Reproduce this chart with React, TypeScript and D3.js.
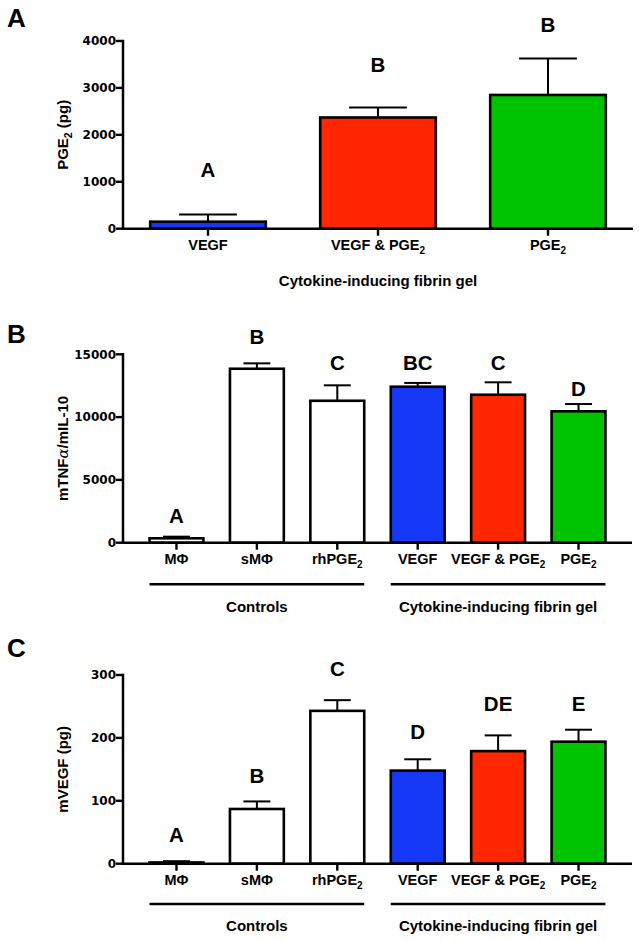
import React from "react";
import * as d3 from "d3";

// ---------- Data ----------
const panelACategories = ["VEGF", "VEGF & PGE_2", "PGE_2"];
const panelAMeans = [150, 2370, 2850];
const panelAErrors = [150, 215, 775];
const panelALetters = ["A", "B", "B"];
const panelALetterY = [1100, 3350, 4200];
const panelATicks = [0, 1000, 2000, 3000, 4000];

const panelBCCategories = ["MΦ", "sMΦ", "rhPGE_2", "VEGF", "VEGF & PGE_2", "PGE_2"];

const panelBMeans = [350, 13850, 11300, 12420, 11780, 10460];
const panelBErrors = [130, 430, 1230, 300, 990, 580];
const panelBLetters = ["A", "B", "C", "BC", "C", "D"];
const panelBLetterY = [1570, 15820, 13750, 13750, 13750, 11680];
const panelBTicks = [0, 5000, 10000, 15000];

const panelCMeans = [2, 87, 243, 148, 179, 194];
const panelCErrors = [2, 12, 17, 18, 25, 19];
const panelCLetters = ["A", "B", "C", "D", "DE", "E"];
const panelCLetterY = [35, 129, 299, 198, 242, 242];
const panelCTicks = [0, 100, 200, 300];

const groupNames = ["Controls", "Cytokine-inducing fibrin gel"];
const groupRanges = [
  [0, 2],
  [3, 5],
];

const BLUE = "#1438f5";
const RED = "#ff2600";
const GREEN = "#00c300";
const WHITE = "#ffffff";
const panelAColors = [BLUE, RED, GREEN];
const panelBCColors = [WHITE, WHITE, WHITE, BLUE, RED, GREEN];

const SANS = "'Liberation Sans', Arial, Helvetica, sans-serif";
const TICKFONT = "'DejaVu Sans', sans-serif";

function SubLabel({ text, subSize }: { text: string; subSize: number }) {
  const parts = text.split("_");
  if (parts.length === 1) return <>{text}</>;
  return (
    <>
      <tspan>{parts[0]}</tspan>
      <tspan fontSize={subSize} dy={4}>
        {parts[1]}
      </tspan>
    </>
  );
}

type PanelProps = {
  categories: string[];
  means: number[];
  errors: number[];
  letters: string[];
  letterY: number[];
  ticks: number[];
  colors: string[];
  y0: number;
  yTop: number;
  xRange: [number, number];
  padInner: number;
  padOuter: number;
  labelBaseline: number;
  panelLetter: string;
  panelLetterBaseline: number;
  yTitle: React.ReactNode;
  groups?: boolean;
  groupLineY?: number;
  groupLabelBaseline?: number;
  singleTitle?: string;
  singleTitleBaseline?: number;
};

function Panel(p: PanelProps) {
  const x = d3
    .scaleBand<string>()
    .domain(p.categories)
    .range(p.xRange)
    .paddingInner(p.padInner)
    .paddingOuter(p.padOuter);
  const y = d3
    .scaleLinear()
    .domain([0, p.ticks[p.ticks.length - 1]])
    .range([p.y0, p.yTop]);
  const bw = x.bandwidth();
  const axisX = p.xRange[0];
  return (
    <g>
      <text
        x={7}
        y={p.panelLetterBaseline}
        fontFamily={SANS}
        fontWeight="bold"
        fontSize={26}
      >
        {p.panelLetter}
      </text>
      {/* bars */}
      {p.categories.map((c, i) => {
        const cx = (x(c) as number) + bw / 2;
        const top = y(p.means[i]);
        const etop = y(p.means[i] + p.errors[i]);
        return (
          <g key={c}>
            <line x1={cx} x2={cx} y1={top} y2={etop} stroke="#000" strokeWidth={2} />
            <line
              x1={cx - bw / 4}
              x2={cx + bw / 4}
              y1={etop}
              y2={etop}
              stroke="#000"
              strokeWidth={2}
            />
            <rect
              x={x(c)}
              y={top}
              width={bw}
              height={p.y0 - top}
              fill={p.colors[i]}
              stroke="#000"
              strokeWidth={2.6}
            />
            <text
              x={cx}
              y={y(p.letterY[i])}
              textAnchor="middle"
              fontFamily={SANS}
              fontWeight="bold"
              fontSize={20.5}
            >
              {p.letters[i]}
            </text>
            <line x1={cx} x2={cx} y1={p.y0} y2={p.y0 + 7} stroke="#000" strokeWidth={2.4} />
            <text
              x={cx}
              y={p.labelBaseline}
              textAnchor="middle"
              fontFamily={SANS}
              fontWeight="bold"
              fontSize={14.5}
            >
              <SubLabel text={c} subSize={10} />
            </text>
          </g>
        );
      })}
      {/* y axis */}
      <line x1={axisX} x2={axisX} y1={y(p.ticks[p.ticks.length - 1]) - 1.2} y2={p.y0 + 1.2} stroke="#000" strokeWidth={2.5} />
      {p.ticks.map((t) => (
        <g key={t}>
          <line x1={axisX - 7} x2={axisX} y1={y(t)} y2={y(t)} stroke="#000" strokeWidth={2.4} />
          <text
            x={axisX - 7}
            y={y(t)}
            dy="0.36em"
            textAnchor="end"
            fontFamily={TICKFONT}
            fontWeight="bold"
            fontSize={12}
          >
            {String(t)}
          </text>
        </g>
      ))}
      {/* x axis */}
      <line x1={axisX - 1.2} x2={p.xRange[1]} y1={p.y0} y2={p.y0} stroke="#000" strokeWidth={2.5} />
      {/* y title */}
      <text
        transform={`translate(68,${(y.range()[0] + y.range()[1]) / 2}) rotate(-90)`}
        textAnchor="middle"
        fontFamily={SANS}
        fontWeight="bold"
        fontSize={15}
      >
        {p.yTitle}
      </text>
      {p.singleTitle && (
        <text
          x={(p.xRange[0] + p.xRange[1]) / 2}
          y={p.singleTitleBaseline}
          textAnchor="middle"
          fontFamily={SANS}
          fontWeight="bold"
          fontSize={15}
        >
          {p.singleTitle}
        </text>
      )}
      {p.groups &&
        groupNames.map((g, gi) => {
          const [a, b] = groupRanges[gi];
          const x1 = x(p.categories[a]) as number;
          const x2 = (x(p.categories[b]) as number) + bw;
          return (
            <g key={g}>
              <line x1={x1} x2={x2} y1={p.groupLineY} y2={p.groupLineY} stroke="#000" strokeWidth={2.4} />
              <text
                x={(x1 + x2) / 2}
                y={p.groupLabelBaseline}
                textAnchor="middle"
                fontFamily={SANS}
                fontWeight="bold"
                fontSize={15}
              >
                {g}
              </text>
            </g>
          );
        })}
    </g>
  );
}

export default function App() {
  return (
    <svg
      width={639}
      height={941}
      style={{ position: "absolute", left: 0, top: 0, background: "#fff" }}
    >
      <rect width={639} height={941} fill="#fff" />
      <Panel
        categories={panelACategories}
        means={panelAMeans}
        errors={panelAErrors}
        letters={panelALetters}
        letterY={panelALetterY}
        ticks={panelATicks}
        colors={panelAColors}
        y0={228.7}
        yTop={41}
        xRange={[123, 633]}
        padInner={0.32}
        padOuter={0.16}
        labelBaseline={250}
        panelLetter="A"
        panelLetterBaseline={27}
        yTitle={
          <>
            <tspan>PGE</tspan>
            <tspan fontSize={10.5} dy={4}>2</tspan>
            <tspan dy={-4}> (pg)</tspan>
          </>
        }
        singleTitle="Cytokine-inducing fibrin gel"
        singleTitleBaseline={286}
      />
      <Panel
        categories={panelBCCategories}
        means={panelBMeans}
        errors={panelBErrors}
        letters={panelBLetters}
        letterY={panelBLetterY}
        ticks={panelBTicks}
        colors={panelBCColors}
        y0={542.7}
        yTop={354.3}
        xRange={[123, 632]}
        padInner={0.33}
        padOuter={0.33}
        labelBaseline={564}
        panelLetter="B"
        panelLetterBaseline={343}
        yTitle={
          <>
            <tspan>mTNF</tspan>
            <tspan fontWeight="normal" fontFamily="'DejaVu Serif', serif" fontStyle="italic">α</tspan>
            <tspan>/mIL-10</tspan>
          </>
        }
        groups
        groupLineY={584.3}
        groupLabelBaseline={612}
      />
      <Panel
        categories={panelBCCategories}
        means={panelCMeans}
        errors={panelCErrors}
        letters={panelCLetters}
        letterY={panelCLetterY}
        ticks={panelCTicks}
        colors={panelBCColors}
        y0={863.7}
        yTop={675}
        xRange={[123, 632]}
        padInner={0.33}
        padOuter={0.33}
        labelBaseline={885}
        panelLetter="C"
        panelLetterBaseline={657}
        yTitle="mVEGF (pg)"
        groups
        groupLineY={904}
        groupLabelBaseline={931}
      />
    </svg>
  );
}
